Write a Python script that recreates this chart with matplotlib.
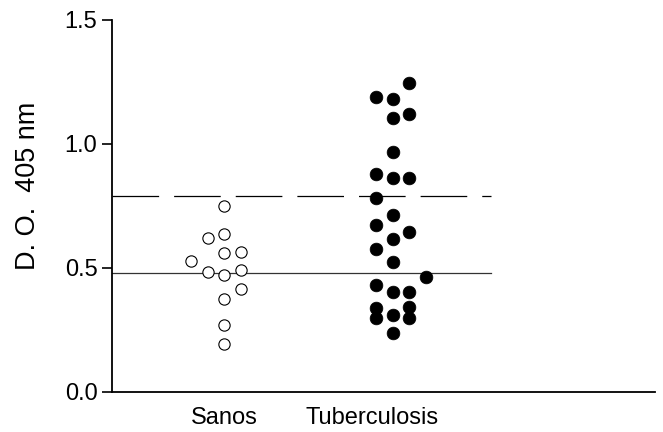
import matplotlib
matplotlib.use("Agg")
import matplotlib.pyplot as plt
import numpy as np

plt.rcParams["font.family"] = ["Liberation Sans", "DejaVu Sans"]

CATEGORIES = ["Sanos", "Tuberculosis"]

# optical density values
sanos = [0.751, 0.620, 0.636, 0.562, 0.565, 0.529, 0.485, 0.493, 0.470,
         0.414, 0.376, 0.272, 0.194]
tuberculosis = [1.244, 1.189, 1.182, 1.122, 1.106, 0.969, 0.878, 0.862, 0.862,
                0.782, 0.714, 0.672, 0.645, 0.617, 0.576, 0.523, 0.463, 0.431,
                0.402, 0.404, 0.337, 0.343, 0.300, 0.309, 0.298, 0.236]

# horizontal slot of each dot inside its column (scatter spread)
sanos_slot = [0, -1, 0, 0, 1, -2, -1, 1, 0, 1, 0, 0, 0]
tb_slot = [1, -1, 0, 1, 0, 0, -1, 0, 1, -1, 0, -1, 1, 0, -1, 0, 2, -1,
           0, 1, -1, 1, -1, 0, 1, 0]

cutoff_mean = 0.481
cutoff_upper = 0.791

fig = plt.figure(figsize=(6.63, 4.32), dpi=100)
ax = fig.add_axes([112 / 663, 1 - 392 / 432, (655 - 112) / 663, (392 - 20) / 432])

step = 0.099
ax.scatter(1 + step * np.array(sanos_slot), sanos, s=66, facecolor="white",
           edgecolor="black", linewidth=0.8, zorder=3, clip_on=False)
ax.scatter(2 + step * np.array(tb_slot), tuberculosis, s=84, facecolor="black",
           edgecolor="black", linewidth=0.5, zorder=3, clip_on=False)

x_end = 2.582
ax.plot([0.333, x_end], [cutoff_mean, cutoff_mean], color="#333333", lw=0.9, zorder=2)
ax.plot([0.333, x_end], [cutoff_upper, cutoff_upper], color="black", lw=0.9,
        dashes=(37.3, 12), zorder=2)

ax.set_xlim(0.333, 3.557)
ax.set_ylim(0, 1.5)
ax.set_yticks([0.0, 0.5, 1.0, 1.5])
ax.set_yticklabels(["0.0", "0.5", "1.0", "1.5"])
ax.set_xticks([1, 1.877])
ax.set_xticklabels(CATEGORIES)

for side in ["top", "right"]:
    ax.spines[side].set_visible(False)
for side in ["left", "bottom"]:
    ax.spines[side].set_linewidth(1.3)

ax.tick_params(axis="y", length=7.5, width=1.2, pad=3, labelsize=17)
ax.tick_params(axis="x", length=0, pad=11, labelsize=17)
ax.set_ylabel("D. O.  405 nm", fontsize=19.5)
ax.yaxis.set_label_coords(-0.13, 0.555)

fig.savefig("out.png", dpi=100)
